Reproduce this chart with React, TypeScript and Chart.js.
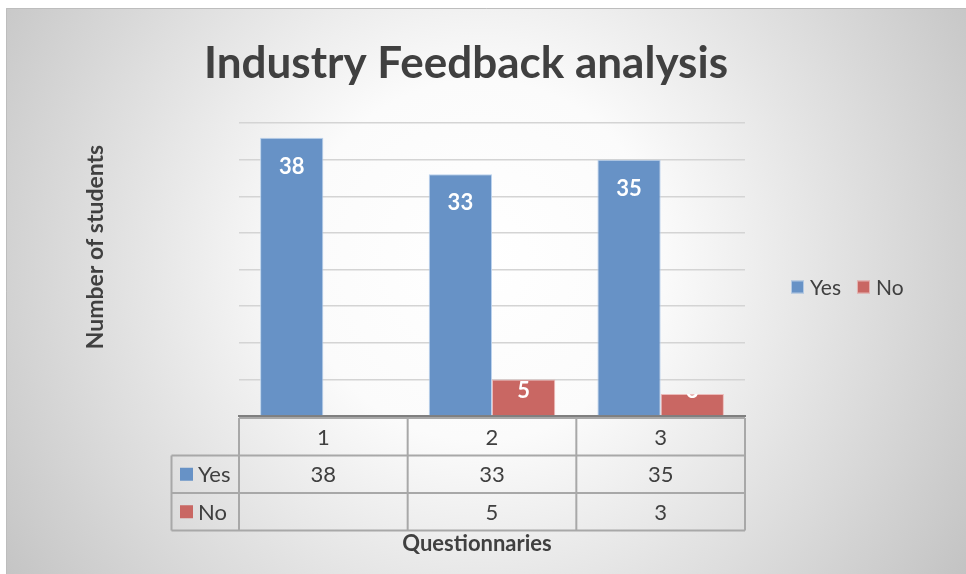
import React, { useEffect, useRef } from "react";
import { Chart, registerables } from "chart.js";

Chart.register(...registerables);

const chartTitle = "Industry Feedback analysis";
const yAxisTitle = "Number of students";
const xAxisTitle = "Questionnaries";
const categories = ["1", "2", "3"];
const seriesNames = ["Yes", "No"];
const yesValues: (number | null)[] = [38, 33, 35];
const noValues: (number | null)[] = [null, 5, 3];
const yMin = 0;
const yMax = 40;
const yStep = 5;

const BLUE = "#6792c6";
const RED = "#c96763";
const TEXT = "#404040";
const FONT = "Lato, 'Open Sans', sans-serif";

const decorPlugin = {
  id: "decor",
  beforeDraw(chart: any) {
    const { ctx, width, height } = chart;
    ctx.save();
    ctx.fillStyle = "#ffffff";
    ctx.fillRect(0, 0, width, height);
    const g = ctx.createRadialGradient(480, 260, 0, 480, 260, 600);
    g.addColorStop(0, "#ffffff");
    g.addColorStop(0.3, "#fbfbfb");
    g.addColorStop(1, "#c0c0c0");
    ctx.fillStyle = g;
    ctx.fillRect(6, 8, width - 6, height - 8);
    ctx.strokeStyle = "#bdbdbd";
    ctx.lineWidth = 1;
    ctx.beginPath();
    ctx.moveTo(6.5, height);
    ctx.lineTo(6.5, 8.5);
    ctx.lineTo(width, 8.5);
    ctx.stroke();
    ctx.restore();
  },
  afterDatasetsDraw(chart: any) {
    const { ctx } = chart;
    ctx.save();
    ctx.font = `bold 22px ${FONT}`;
    ctx.fillStyle = "#ffffff";
    ctx.textAlign = "center";
    ctx.textBaseline = "middle";
    chart.data.datasets.forEach((ds: any, di: number) => {
      const meta = chart.getDatasetMeta(di);
      meta.data.forEach((el: any, i: number) => {
        const v = ds.data[i];
        if (v === null || v === undefined) return;
        const h = el.base - el.y;
        const w = el.width;
        const off = Math.min(29, h - 24);
        ctx.save();
        ctx.beginPath();
        ctx.rect(el.x - w / 2, el.y, w, h);
        ctx.clip();
        ctx.fillText(String(v), el.x, el.y + off);
        ctx.restore();
      });
    });
    ctx.restore();
  },
  afterDraw(chart: any) {
    const { ctx, chartArea } = chart;
    const xs = chart.scales.x;
    ctx.save();
    // Title
    ctx.fillStyle = TEXT;
    ctx.font = `bold 44px ${FONT}`;
    ctx.textAlign = "center";
    ctx.textBaseline = "alphabetic";
    ctx.fillText(chartTitle, 466, 78);

    // Y axis title
    ctx.save();
    ctx.translate(96, 247);
    ctx.rotate(-Math.PI / 2);
    ctx.font = `bold 23px ${FONT}`;
    ctx.textBaseline = "middle";
    ctx.fillText(yAxisTitle, 0, 0);
    ctx.restore();

    // Legend (right)
    const colors = [BLUE, RED];
    ctx.font = `21px ${FONT}`;
    ctx.textAlign = "left";
    ctx.textBaseline = "middle";
    const ly = chartArea.top + 164;
    let lx = chartArea.right + 46;
    seriesNames.forEach((name, i) => {
      ctx.fillStyle = colors[i];
      ctx.fillRect(lx, ly - 6.5, 13, 13);
      ctx.strokeStyle = "rgba(255,255,255,0.5)";
      ctx.lineWidth = 1;
      ctx.strokeRect(lx + 0.5, ly - 6, 12, 12);
      ctx.fillStyle = TEXT;
      ctx.fillText(name, lx + 19, ly + 1);
      lx += 19 + ctx.measureText(name).width + 16;
    });

    // Data table
    const n = categories.length;
    const cw = (xs.right - xs.left) / n;
    const left = xs.left;
    const right = xs.right;
    const legendLeft = left - 67.5;
    const rowH = 37.5;
    const r0 = chartArea.bottom + 2;
    const rows = [r0, r0 + rowH, r0 + 2 * rowH, r0 + 3 * rowH];
    ctx.strokeStyle = "#a8a8a8";
    ctx.lineWidth = 2;
    ctx.beginPath();
    ctx.moveTo(left, rows[0]);
    ctx.lineTo(right, rows[0]);
    for (let k = 1; k < rows.length; k++) {
      ctx.moveTo(legendLeft, rows[k]);
      ctx.lineTo(right, rows[k]);
    }
    for (let k = 0; k <= n; k++) {
      const x = left + k * cw;
      ctx.moveTo(x, rows[0]);
      ctx.lineTo(x, rows[3]);
    }
    ctx.moveTo(legendLeft, rows[1]);
    ctx.lineTo(legendLeft, rows[3]);
    ctx.stroke();

    ctx.fillStyle = TEXT;
    ctx.font = `22px ${FONT}`;
    ctx.textAlign = "center";
    ctx.textBaseline = "middle";
    const series = [yesValues, noValues];
    categories.forEach((c, i) => {
      const cx = left + (i + 0.5) * cw;
      ctx.fillText(c, cx, (rows[0] + rows[1]) / 2 + 1);
      series.forEach((vals, s) => {
        const v = vals[i];
        if (v !== null && v !== undefined) {
          ctx.fillText(String(v), cx, (rows[s + 1] + rows[s + 2]) / 2 + 1);
        }
      });
    });
    seriesNames.forEach((name, s) => {
      const cy = (rows[s + 1] + rows[s + 2]) / 2;
      ctx.fillStyle = colors[s];
      ctx.fillRect(legendLeft + 8.5, cy - 6.5, 13, 13);
      ctx.fillStyle = TEXT;
      ctx.textAlign = "left";
      ctx.fillText(name, legendLeft + 26.5, cy + 1);
    });

    // X axis title
    ctx.font = `bold 22px ${FONT}`;
    ctx.textAlign = "center";
    ctx.fillText(xAxisTitle, 477, rows[3] + 13);
    ctx.restore();
  },
};

export default function App() {
  const ref = useRef<HTMLCanvasElement | null>(null);
  useEffect(() => {
    if (!ref.current) return;
    const chart = new Chart(ref.current, {
      type: "bar",
      data: {
        labels: categories,
        datasets: [
          {
            label: seriesNames[0],
            data: yesValues,
            backgroundColor: BLUE,
            borderColor: "rgba(180,205,235,0.9)",
            borderWidth: 1,
          },
          {
            label: seriesNames[1],
            data: noValues,
            backgroundColor: RED,
            borderColor: "rgba(235,180,178,0.9)",
            borderWidth: 1,
          },
        ],
      },
      options: {
        responsive: false,
        animation: false,
        layout: { padding: { left: 239, right: 221, top: 123, bottom: 158 } },
        plugins: {
          legend: { display: false },
          title: { display: false },
          tooltip: { enabled: false },
        },
        datasets: { bar: { barPercentage: 1, categoryPercentage: 0.75 } },
        scales: {
          x: {
            ticks: { display: false },
            grid: { display: false, drawTicks: false },
            border: { display: true, color: "#7f7f7f", width: 2 },
          },
          y: {
            min: yMin,
            max: yMax,
            ticks: { display: false, stepSize: yStep },
            grid: { color: "#d4d4d4", lineWidth: 1.5, drawTicks: false },
            border: { display: false },
          },
        },
      },
      plugins: [decorPlugin],
    });
    return () => chart.destroy();
  }, []);
  return (
    <div style={{ position: "absolute", left: 0, top: 0, width: 966, height: 574 }}>
      <canvas ref={ref} width={966} height={574} style={{ display: "block" }} />
    </div>
  );
}
